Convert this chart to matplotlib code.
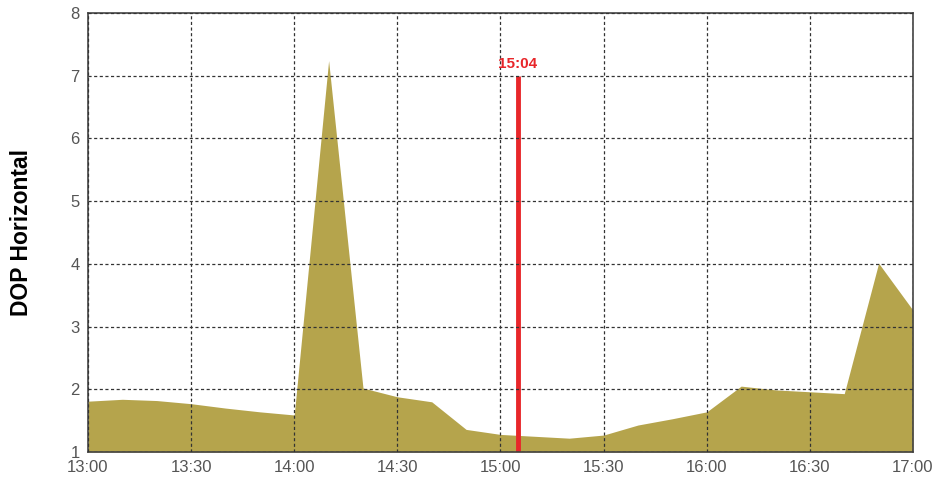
import matplotlib.pyplot as plt

plt.rcParams['font.family'] = ['Liberation Sans', 'DejaVu Sans']

# DOP horizontal over the afternoon
times = ["13:00", "13:10", "13:20", "13:30", "13:40", "13:50", "14:00",
         "14:10", "14:20", "14:30", "14:40", "14:50", "15:00", "15:10",
         "15:20", "15:30", "15:40", "15:50", "16:00", "16:10", "16:20",
         "16:30", "16:40", "16:50", "17:00"]
dop = [1.81, 1.84, 1.82, 1.77, 1.70, 1.64, 1.59,
       7.24, 2.02, 1.88, 1.80, 1.36, 1.28, 1.25,
       1.22, 1.27, 1.43, 1.53, 1.64, 2.05, 1.99,
       1.96, 1.93, 4.01, 3.26]
tick_labels = ["13:00", "13:30", "14:00", "14:30", "15:00", "15:30", "16:00", "16:30", "17:00"]
marker_time = "15:04"
marker_top = 7


def to_min(t):
    h, m = t.split(":")
    return int(h) * 60 + int(m)


x = [to_min(t) for t in times]
xt = [to_min(t) for t in tick_labels]

fig = plt.figure(figsize=(9.39, 4.79), dpi=100)
ax = fig.add_axes([0.0937, 0.0564, 0.8786, 0.9166])

ax.fill_between(x, 1, dop, color="#b5a44c", linewidth=0)
ax.vlines(to_min(marker_time) + 1, 1, marker_top, color="#e8262a", linewidth=3.5)
ax.text(to_min(marker_time) + 1, marker_top + 0.08, marker_time, color="#e8262a",
        fontsize=11, fontweight="bold", ha="center", va="bottom")

ax.set_xlim(xt[0], xt[-1])
ax.set_ylim(1, 8)
ax.set_xticks(xt)
ax.set_xticklabels(tick_labels)
ax.set_yticks(range(1, 9))
ax.grid(True, color="#333333", linestyle=(0, (2.5, 2)), linewidth=0.9)
ax.set_axisbelow(False)
ax.tick_params(axis="both", length=0, labelsize=12, labelcolor="#555555")
ax.tick_params(axis="x", pad=6)
ax.tick_params(axis="y", pad=6)
for s in ax.spines.values():
    s.set_color("#444444")
    s.set_linewidth(1.2)
ax.set_ylabel("DOP Horizontal", fontsize=16.5, fontweight="bold", labelpad=27)

fig.savefig("out.png", dpi=100)
